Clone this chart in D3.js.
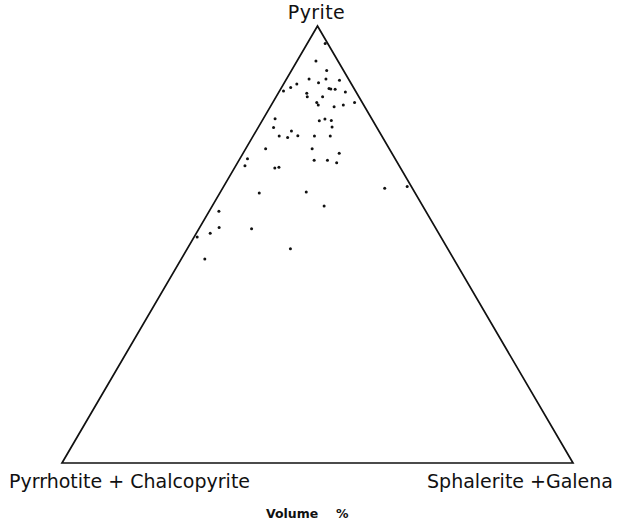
<!DOCTYPE html>
<html>
<head>
<meta charset="utf-8">
<script src="https://cdn.jsdelivr.net/npm/d3@7"></script>
<style>
  body { margin: 0; background: #fff; }
  text { font-family: "DejaVu Sans", sans-serif; fill: #111; }
</style>
</head>
<body>
<svg id="chart" width="617" height="523"></svg>
<script>
// corner labels of the ternary plot
const corners = ["Pyrite", "Pyrrhotite + Chalcopyrite", "Sphalerite +Galena"];

// volume % of each sample (each row sums to 100)
const pyrite = [96.0, 92.0, 89.8, 87.9, 87.0, 87.9, 87.6, 85.9, 86.7, 85.1,
    84.6, 83.8, 85.7, 85.6, 85.5, 84.9, 83.8, 82.5, 81.9, 81.5,
    81.9, 82.5, 78.8, 78.3, 78.7, 78.4, 76.8, 76.9, 76.0, 74.8,
    74.5, 74.9, 74.8, 74.8, 71.9, 71.9, 70.9, 69.6, 69.3, 69.3,
    68.7, 68.0, 67.5, 67.7, 61.8, 62.0, 62.9, 63.3, 58.8, 57.6,
    53.9, 52.6, 51.7, 53.6, 49.0, 46.7];
const poCp = [0.5, 4.3, 3.3, 7.7, 6.3, 4.4, 1.9, 12.3, 10.7, 14.1,
    9.8, 10.1, 4.9, 4.6, 3.8, 2.1, 7.1, 8.9, 8.9, 6.0,
    4.0, 1.5, 18.9, 10.5, 9.2, 8.1, 20.2, 8.7, 17.1, 20.1,
    18.6, 16.4, 13.2, 10.1, 24.2, 15.1, 10.3, 28.9, 16.0, 13.4,
    11.9, 30.2, 24.6, 23.7, 30.5, 21.2, 5.4, 0.8, 19.3, 40.5,
    42.3, 44.7, 47.7, 36.1, 30.8, 48.7];
const sphGn = [3.5, 3.7, 6.9, 4.4, 6.7, 7.7, 10.5, 1.8, 2.6, 0.8,
    5.6, 6.1, 9.4, 9.8, 10.7, 13.0, 9.1, 8.6, 9.2, 12.5,
    14.1, 16.0, 2.3, 11.2, 12.1, 13.5, 3.0, 14.4, 6.9, 5.1,
    6.9, 8.7, 12.0, 15.1, 3.9, 13.0, 18.8, 1.5, 14.7, 17.3,
    19.4, 1.8, 7.9, 8.6, 7.7, 16.8, 31.7, 35.9, 21.9, 1.9,
    3.8, 2.7, 0.6, 10.3, 20.2, 4.6];

const svg = d3.select("#chart");

// base runs from the Po+Cp corner (0) to the Sph+Gn corner (100)
const x = d3.scaleLinear().domain([0, 100]).range([62, 573]);
// pyrite height: 0 at the base, 100 at the apex
const y = d3.scaleLinear().domain([0, 100]).range([463, 26]);

// ternary -> screen, apex sits over the middle of the base
const project = (py, sg) => [x(sg + py / 2), y(py)];

const samples = pyrite.map((p, i) => ({ py: p, pc: poCp[i], sg: sphGn[i] }));

// triangle outline
const outline = [project(100, 0), project(0, 0), project(0, 100)];
svg.append("path")
    .attr("d", d3.line()(outline) + "Z")
    .attr("fill", "none")
    .attr("stroke", "#111")
    .attr("stroke-width", 1.7)
    .attr("stroke-linejoin", "miter");

// samples
svg.append("g")
    .selectAll("circle")
    .data(samples)
    .join("circle")
    .attr("cx", d => project(d.py, d.sg)[0])
    .attr("cy", d => project(d.py, d.sg)[1])
    .attr("r", 1.5)
    .attr("fill", "#111");

// corner labels
svg.append("text")
    .attr("x", x(50) - 1)
    .attr("y", 19)
    .attr("text-anchor", "middle")
    .attr("font-size", 19)
    .attr("letter-spacing", 0.4)
    .text(corners[0]);

svg.append("text")
    .attr("x", 9)
    .attr("y", 488)
    .attr("font-size", 19)
    .text(corners[1]);

svg.append("text")
    .attr("x", 613)
    .attr("y", 488)
    .attr("text-anchor", "end")
    .attr("font-size", 19)
    .text(corners[2]);

// units
svg.append("text")
    .attr("x", 266)
    .attr("y", 518)
    .attr("font-size", 12.5)
    .attr("font-weight", "bold")
    .text("Volume");

svg.append("text")
    .attr("x", 336)
    .attr("y", 518)
    .attr("font-size", 12.5)
    .attr("font-weight", "bold")
    .text("%");
</script>
</body>
</html>
